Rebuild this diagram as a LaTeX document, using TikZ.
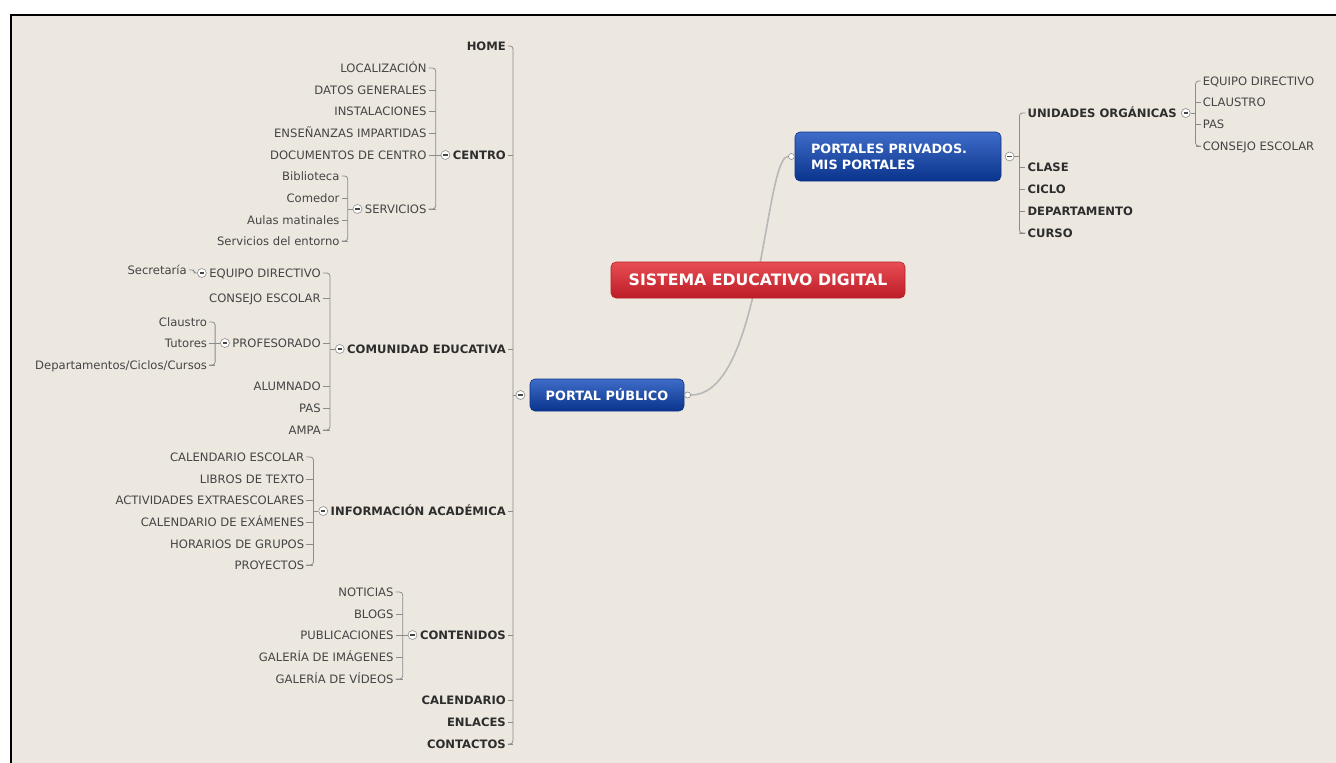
\documentclass[tikz,border=0pt]{standalone}
\usepackage{fontspec}
\setmainfont{DejaVu Sans}
\usepackage{tikz}
\usetikzlibrary{positioning}
\definecolor{paper}{RGB}{236,232,224}
\definecolor{twiggray}{RGB}{140,140,140}
\definecolor{inkgray}{RGB}{68,68,68}
\definecolor{inkdark}{RGB}{45,45,45}
\definecolor{blueA}{RGB}{62,108,200}
\definecolor{blueB}{RGB}{10,52,140}
\definecolor{redA}{RGB}{232,78,84}
\definecolor{redB}{RGB}{188,28,38}
\tikzset{
  leaf/.style={font=\fontsize{11.6}{13}\selectfont, text=inkgray, inner sep=2pt,
    text height=8.5pt, text depth=0pt},
  topic/.style={leaf, font=\fontsize{11.6}{13}\selectfont\bfseries, text=inkdark},
  twig/.style={draw=twiggray, line width=0.8pt},
  stem/.style={draw=black!28, line width=1.6pt},
  fold/.style={circle, draw=twiggray, fill=white, line width=0.6pt, minimum size=9pt,
    inner sep=0pt, path picture={\draw[line width=1.1pt, inkgray]
      ([xshift=-2.2pt]path picture bounding box.center) --
      ([xshift=2.2pt]path picture bounding box.center);}},
  knob/.style={circle, draw=twiggray, fill=white, line width=0.6pt, minimum size=6pt, inner sep=0pt},
  portal/.style={rounded corners=5pt, top color=blueA, bottom color=blueB, draw=blueB,
    line width=0.6pt, text=white, font=\fontsize{12.8}{16}\selectfont\bfseries},
  root/.style={rounded corners=5pt, top color=redA, bottom color=redB, draw=redB,
    line width=0.6pt, text=white, font=\fontsize{15.7}{18}\selectfont\bfseries},
}
% bracket joining children #1-1..#1-#2 to the bar at #3, on their side #4
\newcommand{\branchbar}[4]{%
  \draw[twig, rounded corners=3pt] (#1-1.#4) -| (#1-#2.#4 -| #3) -- (#1-#2.#4);
  \foreach \k in {2,...,#2} \draw[twig] (#1-\k.#4) -- (#1-\k.#4 -| #3);
}
\begin{document}
\begin{tikzpicture}[x=1pt,y=-1pt]
  \useasboundingbox (0,0) rectangle (1336,763);
  \fill[white] (0,0) rectangle (1336,763);
  \fill[paper] (11,15) rectangle (1336,763);
  \draw[line width=2pt] (11,763) -- (11,15) -- (1336,15);

  % portal publico
  \foreach \yy/\txt [count=\i] in {46/HOME, 155/CENTRO, 349/COMUNIDAD EDUCATIVA,
      511/INFORMACIÓN ACADÉMICA, 635/CONTENIDOS, 700/CALENDARIO, 722/ENLACES, 744/CONTACTOS}
    \node[topic, anchor=east] (pub-\i) at (508,\yy) {\txt};
  \coordinate (pubbar) at (513,395);
  \branchbar{pub}{8}{pubbar}{east}
  \node[portal, minimum width=154pt, minimum height=32pt] (pub) at (607,395) {PORTAL PÚBLICO};
  \node[fold, left=4.5pt of pub] (pubfold) {};
  \draw[twig] (pubfold) -- (pubfold -| pubbar);

  % centro
  \node[fold, left=0.5pt of pub-2] (cenfold) {};
  \coordinate (cenbar) at ([xshift=-5pt]cenfold.west);
  \draw[twig] (cenfold) -- (cenfold -| cenbar);
  \foreach \yy/\txt [count=\i] in {68/LOCALIZACIÓN, 90/DATOS GENERALES, 111/INSTALACIONES,
      133/ENSEÑANZAS IMPARTIDAS, 155/DOCUMENTOS DE CENTRO, 209/SERVICIOS}
    \node[leaf, anchor=east, xshift=-7pt] (cen-\i) at (cenbar |- 0,\yy) {\txt};
  \branchbar{cen}{6}{cenbar}{east}
  \node[fold, left=0.5pt of cen-6] (serfold) {};
  \coordinate (serbar) at ([xshift=-5pt]serfold.west);
  \draw[twig] (serfold) -- (serfold -| serbar);
  \foreach \yy/\txt [count=\i] in {176/Biblioteca, 198/Comedor, 220/Aulas matinales,
      241/Servicios del entorno}
    \node[leaf, anchor=east, xshift=-6pt] (ser-\i) at (serbar |- 0,\yy) {\txt};
  \branchbar{ser}{4}{serbar}{east}

  % comunidad educativa
  \node[fold, left=0.5pt of pub-3] (comfold) {};
  \coordinate (combar) at ([xshift=-5pt]comfold.west);
  \draw[twig] (comfold) -- (comfold -| combar);
  \foreach \yy/\txt [count=\i] in {273/EQUIPO DIRECTIVO, 298/CONSEJO ESCOLAR, 343/PROFESORADO,
      386/ALUMNADO, 408/PAS, 430/AMPA}
    \node[leaf, anchor=east, xshift=-7pt] (com-\i) at (combar |- 0,\yy) {\txt};
  \branchbar{com}{6}{combar}{east}
  \node[fold, left=0.5pt of com-1] (edfold) {};
  \node[leaf, anchor=east] (secr) at ([xshift=-8pt, yshift=3pt]edfold.west) {Secretaría};
  \draw[twig, rounded corners=2pt] (secr.east) -| ([xshift=-3pt]edfold.west) -- (edfold.west);
  \node[fold, left=0.5pt of com-3] (proffold) {};
  \coordinate (profbar) at ([xshift=-5pt]proffold.west);
  \draw[twig] (proffold) -- (proffold -| profbar);
  \foreach \yy/\txt [count=\i] in {322/Claustro, 343/Tutores, 365/{Departamentos/Ciclos/Cursos}}
    \node[leaf, anchor=east, xshift=-6pt] (prof-\i) at (profbar |- 0,\yy) {\txt};
  \branchbar{prof}{3}{profbar}{east}

  % informacion academica
  \node[fold, left=0.5pt of pub-4] (inffold) {};
  \coordinate (infbar) at ([xshift=-5pt]inffold.west);
  \draw[twig] (inffold) -- (inffold -| infbar);
  \foreach \yy/\txt [count=\i] in {457/CALENDARIO ESCOLAR, 479/LIBROS DE TEXTO,
      500/ACTIVIDADES EXTRAESCOLARES, 522/CALENDARIO DE EXÁMENES, 544/HORARIOS DE GRUPOS,
      565/PROYECTOS}
    \node[leaf, anchor=east, xshift=-7pt] (inf-\i) at (infbar |- 0,\yy) {\txt};
  \branchbar{inf}{6}{infbar}{east}

  % contenidos
  \node[fold, left=0.5pt of pub-5] (confold) {};
  \coordinate (conbar) at ([xshift=-5pt]confold.west);
  \draw[twig] (confold) -- (confold -| conbar);
  \foreach \yy/\txt [count=\i] in {592/NOTICIAS, 614/BLOGS, 635/PUBLICACIONES,
      657/GALERÍA DE IMÁGENES, 679/GALERÍA DE VÍDEOS}
    \node[leaf, anchor=east, xshift=-7pt] (con-\i) at (conbar |- 0,\yy) {\txt};
  \branchbar{con}{5}{conbar}{east}

  % portales privados
  \node[portal, minimum height=49pt, text width=174pt, inner xsep=16pt, align=left]
    (priv) at (898,156.5) {PORTALES PRIVADOS.\\MIS PORTALES};
  \node[fold, right=3.5pt of priv] (privfold) {};
  \coordinate (privbar) at ([xshift=5pt]privfold.east);
  \draw[twig] (privfold) -- (privfold -| privbar);
  \foreach \yy/\txt [count=\i] in {113/UNIDADES ORGÁNICAS, 167/CLASE, 189/CICLO,
      211/DEPARTAMENTO, 233/CURSO}
    \node[topic, anchor=west, xshift=6pt] (priv-\i) at (privbar |- 0,\yy) {\txt};
  \branchbar{priv}{5}{privbar}{west}
  \node[fold, right=2pt of priv-1] (unifold) {};
  \coordinate (unibar) at ([xshift=5pt]unifold.east);
  \draw[twig] (unifold) -- (unifold -| unibar);
  \foreach \yy/\txt [count=\i] in {81/EQUIPO DIRECTIVO, 102/CLAUSTRO, 124/PAS, 146/CONSEJO ESCOLAR}
    \node[leaf, anchor=west, xshift=5pt] (uni-\i) at (unibar |- 0,\yy) {\txt};
  \branchbar{uni}{4}{unibar}{west}

  % central topic and its two branches
  \node[knob, right=0pt of pub] (pubknob) {};
  \node[knob, left=0pt of priv] (privknob) {};
  \draw[stem] (pubknob) .. controls +(75,0) and +(-27,0) .. (privknob);
  \node[root, minimum width=294pt, minimum height=36pt] (sed) at (758,280) {SISTEMA EDUCATIVO DIGITAL};
\end{tikzpicture}
\end{document}
